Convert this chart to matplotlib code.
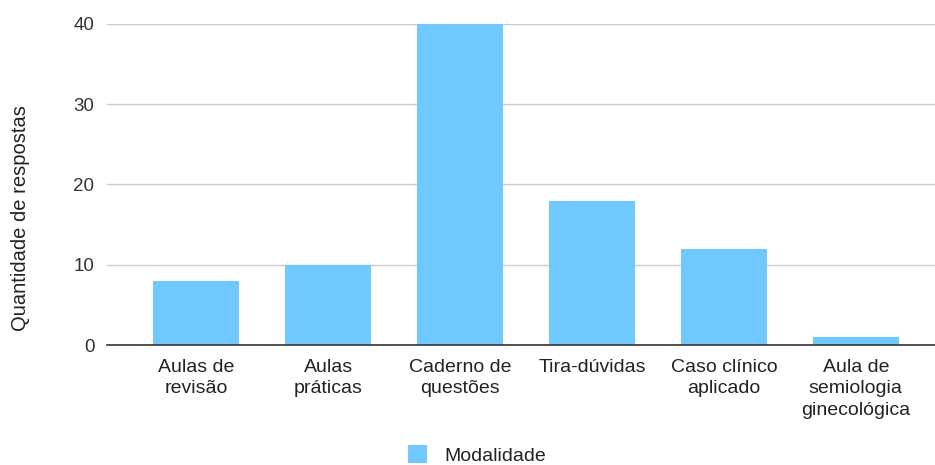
import matplotlib
matplotlib.use("Agg")
import matplotlib.pyplot as plt
from matplotlib.patches import Patch

categories = ["Aulas de\nrevisão", "Aulas\npráticas", "Caderno de\nquestões",
              "Tira-dúvidas", "Caso clínico\naplicado", "Aula de\nsemiologia\nginecológica"]
values = [8, 10, 40, 18, 12, 1]
yticks = [0, 10, 20, 30, 40]
series_name = "Modalidade"
ylabel = "Quantidade de respostas"
color = "#6FC9FF"

plt.rcParams['font.family'] = ['Liberation Sans', 'DejaVu Sans']

fig = plt.figure(figsize=(9.35, 4.65), dpi=100)
W, H = 935, 465
ax = fig.add_axes([107 / W, (H - 345) / H, (935 - 107) / W, (345 - 24) / H])

x = list(range(len(categories)))
ax.bar(x, values, width=0.65, color=color, zorder=3)
ax.set_xlim(-0.675, 5.6)
ax.set_ylim(0, 40)
ax.set_yticks(yticks)
ax.set_xticks(x)
ax.set_xticklabels(categories, fontsize=14, color="#222222", linespacing=1.34)
ax.tick_params(axis='y', labelsize=13.5, labelcolor="#333333", length=0, pad=9)
ax.tick_params(axis='x', length=0, pad=10)
ax.yaxis.grid(True, color="#CCCCCC", linewidth=1, zorder=0)
for s in ["top", "right", "left"]:
    ax.spines[s].set_visible(False)
ax.spines["bottom"].set_color("#333333")
ax.spines["bottom"].set_linewidth(1.2)
ax.spines["bottom"].set_zorder(4)

fig.text(21 / W, 1 - 218 / H, ylabel, rotation=90, ha="center", va="center",
         fontsize=14.5, color="#222222")

fig.legend(handles=[Patch(facecolor=color, label=series_name)],
           loc="center", bbox_to_anchor=(477 / W, 1 - 455 / H), frameon=False,
           fontsize=14, handlelength=1.0, handleheight=1.0, handletextpad=0.9,
           labelcolor="#222222")

fig.savefig("out.png", dpi=100)
